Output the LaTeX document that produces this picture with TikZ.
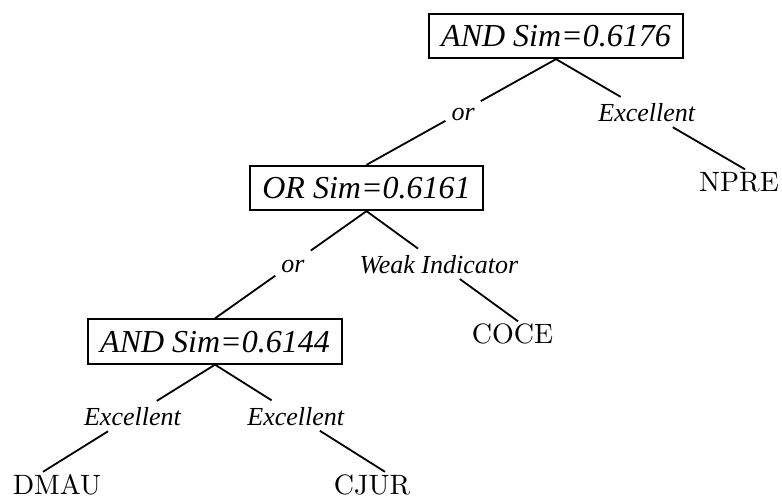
\documentclass[tikz,border=0pt]{standalone}
\usepackage{fontspec}
\newfontfamily\tms{Liberation Serif}
\newfontfamily\lmten{lmroman10-regular}[Extension=.otf]
\tikzset{
  box/.style={draw, line width=1.8pt, font=\tms\itshape\fontsize{32}{36}\selectfont,
    text height=21pt, text depth=0pt, minimum height=44.5pt, inner xsep=12pt},
  leaf/.style={font=\lmten\fontsize{28}{32}\selectfont, text height=19pt, text depth=0pt, inner sep=1pt},
  lbl/.style={font=\tms\itshape\fontsize{26}{30}\selectfont, text height=22pt, text depth=3pt,
    inner ysep=2.5pt, inner xsep=6pt},
  edge/.style={line width=1.8pt}
}
\begin{document}
\begin{tikzpicture}[x=1pt,y=-1pt]
\useasboundingbox (0,0) rectangle (782,498);
\node[box] (r) at (556,36) {AND Sim=0.6176};
\node[box] (o) at (366.5,188) {OR Sim=0.6161};
\node[box] (a) at (215,341.5) {AND Sim=0.6144};
\node[leaf] (npre) at (739,182) {NPRE};
\node[leaf] (coce) at (512.5,334) {COCE};
\node[leaf] (dmau) at (57,484.5) {DMAU};
\node[leaf] (cjur) at (372,484.5) {CJUR};

\path (r.south) -- (o.north) node[lbl,pos=0.49] (l1) {or};
\draw[edge] (r.south) -- (l1) -- (o.north);
\path (r.south) -- ([xshift=6pt,yshift=2pt]npre.north) node[lbl,pos=0.48] (l2) {Excellent};
\draw[edge] (r.south) -- (l2) -- ([xshift=6pt,yshift=2pt]npre.north);

\path (o.south) -- (a.north) node[lbl,pos=0.485] (l3) {or};
\draw[edge] (o.south) -- (l3) -- (a.north);
\path (o.south) -- ([xshift=5.5pt,yshift=2pt]coce.north) node[lbl,pos=0.478] (l4) {Weak Indicator};
\draw[edge] (o.south) -- (l4) -- ([xshift=5.5pt,yshift=2pt]coce.north);

\path (a.south) -- ([xshift=-14pt,yshift=2pt]dmau.north) node[lbl,pos=0.48] (l5) {Excellent};
\draw[edge] (a.south) -- (l5) -- ([xshift=-14pt,yshift=2pt]dmau.north);
\path (a.south) -- ([xshift=13pt,yshift=2pt]cjur.north) node[lbl,pos=0.475] (l6) {Excellent};
\draw[edge] (a.south) -- (l6) -- ([xshift=13pt,yshift=2pt]cjur.north);
\end{tikzpicture}
\end{document}
